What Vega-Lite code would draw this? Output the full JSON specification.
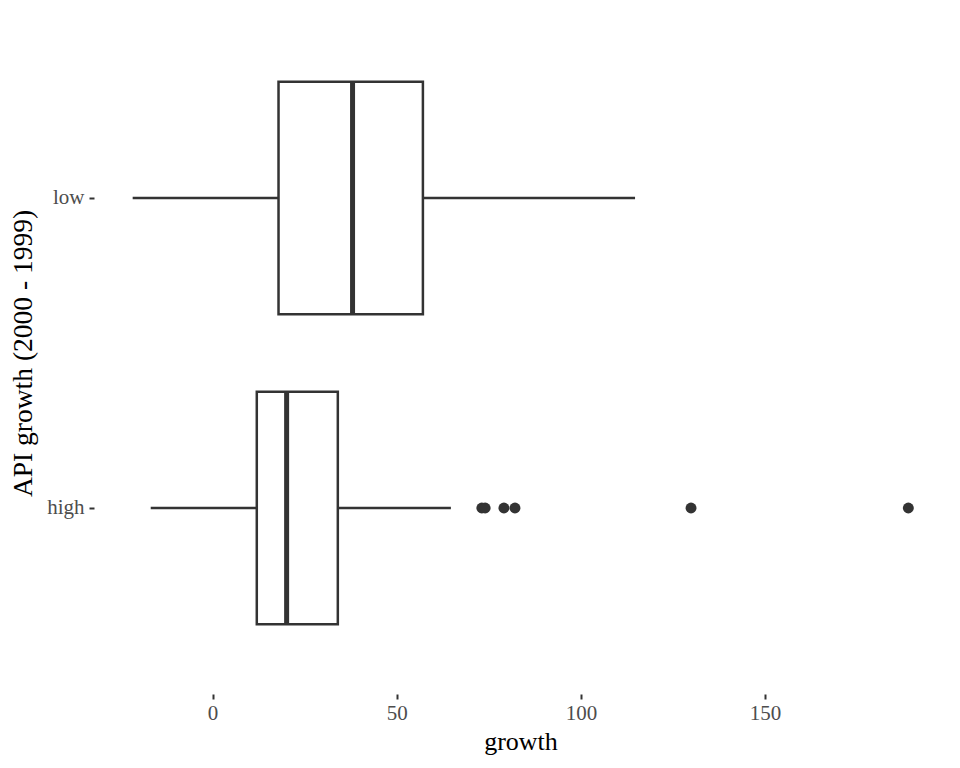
{
  "$schema": "https://vega.github.io/schema/vega-lite/v6.json",
  "width": 853,
  "height": 682,
  "autosize": {"type": "none"},
  "padding": {"left": 94, "top": 12, "right": 13, "bottom": 74},
  "background": "white",
  "config": {
    "view": {"stroke": null},
    "font": "Liberation Serif",
    "axis": {
      "grid": false,
      "domain": false,
      "labelFont": "Liberation Serif",
      "labelFontSize": 21,
      "labelColor": "#4d4d4d",
      "tickColor": "#333333",
      "tickSize": 5,
      "tickWidth": 2,
      "titleFont": "Liberation Serif",
      "titleFontSize": 26,
      "titleFontWeight": "normal",
      "titleColor": "#000000"
    }
  },
  "datasets": {
    "boxes": [
      {"group": "low", "lower": -21.7, "q1": 17.9, "median": 38.0, "q3": 57.1, "upper": 114.7},
      {"group": "high", "lower": -16.8, "q1": 12.0, "median": 20.1, "q3": 34.0, "upper": 64.7}
    ],
    "outliers": [
      {"group": "high", "growth": 73.1},
      {"group": "high", "growth": 74.0},
      {"group": "high", "growth": 79.1},
      {"group": "high", "growth": 82.1},
      {"group": "high", "growth": 129.9},
      {"group": "high", "growth": 188.9}
    ]
  },
  "encoding": {
    "y": {
      "field": "group",
      "type": "nominal",
      "scale": {"domain": ["low", "high"], "paddingInner": 0.25, "paddingOuter": 0.225},
      "axis": {"title": "API growth (2000 - 1999)", "labelPadding": 5, "titlePadding": 9, "titleFontSize": 27.5}
    }
  },
  "layer": [
    {
      "data": {"name": "boxes"},
      "mark": {"type": "rule", "color": "#333333", "strokeWidth": 2.5},
      "encoding": {
        "x": {
          "field": "lower",
          "type": "quantitative",
          "scale": {"domain": [-32.2, 199.4], "nice": false, "zero": false},
          "axis": {"title": "growth", "values": [0, 50, 100, 150], "labelPadding": 3, "titlePadding": 5}
        },
        "x2": {"field": "upper"}
      }
    },
    {
      "data": {"name": "boxes"},
      "mark": {"type": "bar", "fill": "white", "stroke": "#333333", "strokeWidth": 2.5},
      "encoding": {
        "x": {"field": "q1", "type": "quantitative"},
        "x2": {"field": "q3"}
      }
    },
    {
      "data": {"name": "boxes"},
      "mark": {"type": "tick", "orient": "vertical", "color": "#333333", "thickness": 5, "size": 232, "opacity": 1},
      "encoding": {
        "x": {"field": "median", "type": "quantitative"}
      }
    },
    {
      "data": {"name": "outliers"},
      "mark": {"type": "circle", "color": "#333333", "size": 120, "opacity": 1},
      "encoding": {
        "x": {"field": "growth", "type": "quantitative"}
      }
    }
  ]
}
